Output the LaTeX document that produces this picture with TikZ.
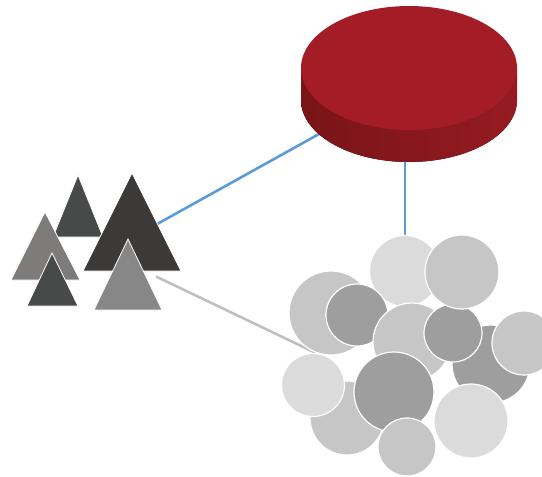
\documentclass[tikz,border=0pt]{standalone}
\usetikzlibrary{backgrounds}
\definecolor{cyltop}{HTML}{A41C25}
\definecolor{cylleft}{HTML}{791417}
\definecolor{cylright}{HTML}{951B21}
\definecolor{linkblue}{HTML}{5B9BD5}
\definecolor{linkgray}{HTML}{BFBFBF}
\definecolor{trdark}{HTML}{474A48}
\definecolor{trdarker}{HTML}{3B3A38}
\definecolor{trmid}{HTML}{7D7C7B}
\definecolor{trfront}{HTML}{888787}
\definecolor{cLight}{HTML}{DBDBDB}
\definecolor{cMid}{HTML}{C6C6C6}
\definecolor{cDark}{HTML}{9E9E9E}
\tikzset{
  bub/.style={circle, draw=white, line width=1.2pt, inner sep=0pt, outer sep=0pt, minimum size=#1},
  tri/.style={draw=white, line width=0.8pt, line join=miter},
  bluelink/.style={draw=linkblue, line width=2.6pt},
  graylink/.style={draw=linkgray, line width=2.6pt},
}
\begin{document}
\begin{tikzpicture}[x=1pt,y=-1pt]
\useasboundingbox (0,0) rectangle (542,477);
% cylinder
\fill[left color=cylleft, right color=cylright] (409,100) ellipse [x radius=108pt, y radius=62pt];
\fill[left color=cylleft, right color=cylright] (301,68) rectangle (517,100);
\fill[cyltop] (409,68) ellipse [x radius=108pt, y radius=62pt];
\coordinate (cyl) at (409,84);
% triangles
\fill[trdark, tri] (78,175) -- (103,237) -- (53,237) -- cycle;
\fill[trmid, tri] (45,212) -- (80,280) -- (11,280) -- cycle;
\fill[trdark, tri] (52,253) -- (78,306) -- (27,306) -- cycle;
\fill[trdarker, tri] (132,173) -- (181,271) -- (83,271) -- cycle;
\coordinate (T4) at (132,238);
\fill[trfront, tri] (128,239) -- (162,310) -- (94,310) -- cycle;
\coordinate (gs) at (156,276.5);
% circles
\node[bub=84pt, fill=cMid] (A) at (331,313) {};
\node[bub=71pt, fill=cLight] (B) at (405,271) {};
\node[bub=62pt, fill=cDark] (D) at (357,315) {};
\node[bub=78pt, fill=cDark] (F) at (491,364) {};
\node[bub=74pt, fill=cMid] (I) at (347,418) {};
\node[bub=78pt, fill=cMid] (E) at (412,342) {};
\node[bub=58pt, fill=cDark] (G) at (453,333) {};
\node[bub=74pt, fill=cMid] (C) at (462,272) {};
\node[bub=64pt, fill=cMid] (H) at (524,343) {};
\node[bub=63pt, fill=cLight] (J) at (313,385) {};
\node[bub=80pt, fill=cDark] (K) at (394,392) {};
\node[bub=58pt, fill=cMid] (M) at (407,447) {};
\node[bub=74pt, fill=cLight] (L) at (471,421) {};
\coordinate (gend) at (318,354);
% connectors
\begin{scope}[on background layer]
\draw[bluelink] (T4) -- (cyl);
\draw[bluelink] (B.center) -- (B.center |- cyl);
\draw[graylink] (gs) -- (gend);
\end{scope}
\end{tikzpicture}
\end{document}
